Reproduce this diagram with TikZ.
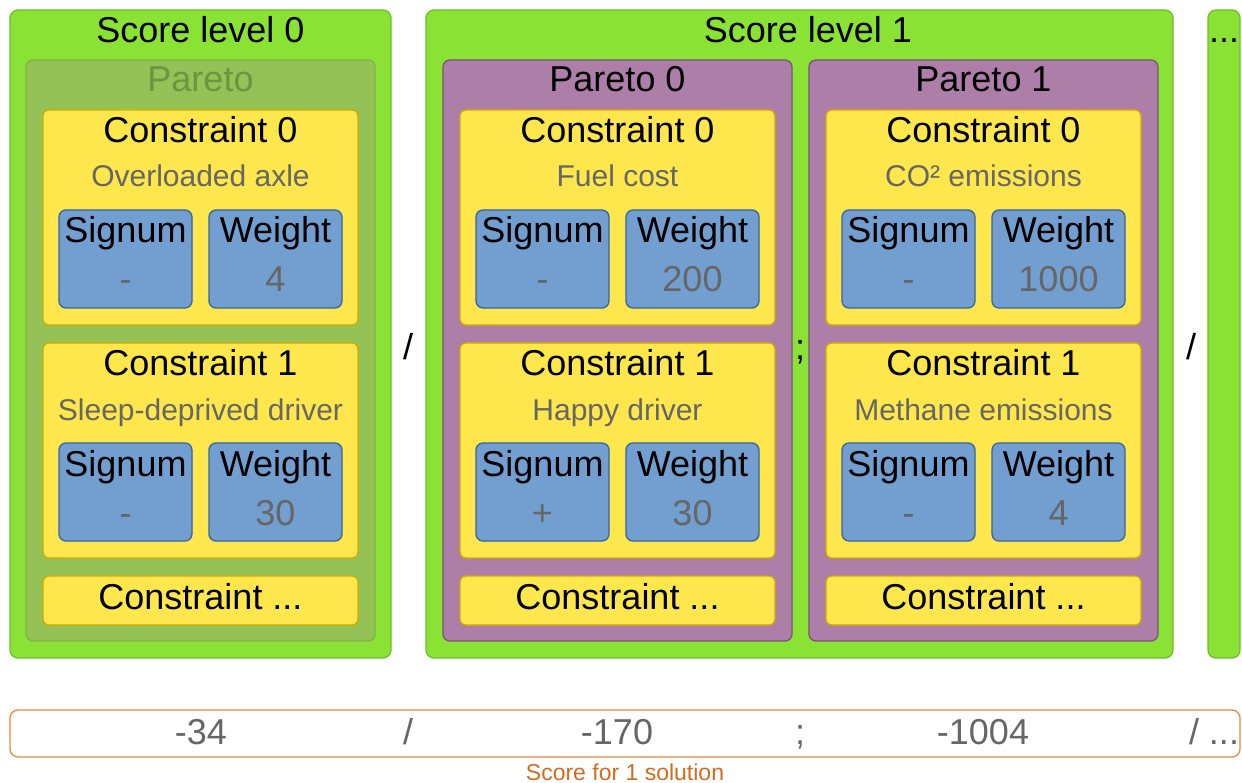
\documentclass[tikz,border=0pt]{standalone}
\usepackage{fontspec}
\setmainfont{Liberation Sans}
\usetikzlibrary{positioning}
\definecolor{lvlgreen}{HTML}{8AE234}
\definecolor{lvlgreenline}{HTML}{6CBF26}
\definecolor{parleft}{HTML}{94C256}
\definecolor{parleftline}{HTML}{84B04A}
\definecolor{parlefttext}{HTML}{6E9442}
\definecolor{parpurple}{HTML}{AD7FA8}
\definecolor{parpurpleline}{HTML}{7A5377}
\definecolor{conyellow}{HTML}{FDE74C}
\definecolor{conyellowline}{HTML}{D4A900}
\definecolor{valblue}{HTML}{729FCF}
\definecolor{valblueline}{HTML}{3465A4}
\definecolor{subgray}{HTML}{666666}
\definecolor{scoreorange}{HTML}{E8883A}
\definecolor{scoretext}{HTML}{D46A1E}
\tikzset{
	box/.style={draw, line width=1.3pt, anchor=north west, inner sep=0pt, outer sep=0pt},
	levelbox/.style={box, rounded corners=8pt, fill=lvlgreen, draw=lvlgreenline},
	parleftbox/.style={box, rounded corners=7pt, fill=parleft, draw=parleftline},
	parpurplebox/.style={box, rounded corners=7pt, fill=parpurple, draw=parpurpleline},
	conbox/.style={box, rounded corners=6pt, fill=conyellow, draw=conyellowline},
	valbox/.style={box, rounded corners=7pt, fill=valblue, draw=valblueline},
	scorebox/.style={box, rounded corners=8pt, fill=white, draw=scoreorange},
	big/.style={font=\fontsize{36}{40}\selectfont, anchor=base, inner sep=0pt},
	small/.style={font=\fontsize{30}{34}\selectfont, text=subgray, anchor=base, inner sep=0pt},
	value/.style={big, text=subgray},
}
\begin{document}
\begin{tikzpicture}[x=1pt,y=-1pt]
	\useasboundingbox (0,0) rectangle (1242,783);
	% score levels
	\node[levelbox, minimum width=381pt, minimum height=648pt] (lvl0) at (10,10) {};
	\node[levelbox, minimum width=747pt, minimum height=648pt] (lvl1) at (426,10) {};
	\node[levelbox, minimum width=32pt, minimum height=648pt] (lvlmore) at (1208,10) {};
	\node[big] (lvltitle0) at (200.5,43) {Score level 0};
	\node[big] (lvltitle1) at (808,43) {Score level 1};
	\node[big] (lvltitlemore) at (1224,43) {...};
	% pareto columns
	\foreach \i/\dx/\pstyle/\ptext/\ptitle in {0/0/parleftbox/parlefttext/Pareto, 1/417/parpurplebox/black/Pareto 0, 2/783/parpurplebox/black/Pareto 1}
	{
		\node[\pstyle, minimum width=349pt, minimum height=581pt] (par\i) at (26+\dx,60) {};
		\node[big, text=\ptext] (partitle\i) at (200.5+\dx,92) {\ptitle};
		\node[conbox, minimum width=315pt, minimum height=49pt] (conmore\i) at (43+\dx,576) {};
		\node[big] (conmoretitle\i) at (200.5+\dx,609) {Constraint ...};
	}
	% constraints
	\foreach \i/\j/\dx/\dy/\csub/\csign/\cweight in {0/0/0/0/Overloaded axle/-/4, 0/1/0/233/Sleep-deprived driver/-/30, 1/0/417/0/Fuel cost/-/200, 1/1/417/233/Happy driver/+/30, 2/0/783/0/CO² emissions/-/1000, 2/1/783/233/Methane emissions/-/4}
	{
		\node[conbox, minimum width=315pt, minimum height=215pt] (con\i\j) at (43+\dx,110+\dy) {};
		\node[big] (contitle\i\j) at (200.5+\dx,143+\dy) {Constraint \j};
		\node[small] (consub\i\j) at (200.5+\dx,187+\dy) {\csub};
		\node[valbox, minimum width=133pt, minimum height=98pt] (sig\i\j) at (59+\dx,210+\dy) {};
		\node[valbox, minimum width=133pt, minimum height=98pt] (wei\i\j) at (209+\dx,210+\dy) {};
		\node[big] (sigtitle\i\j) at (125.5+\dx,243+\dy) {Signum};
		\node[big] (weititle\i\j) at (275.5+\dx,243+\dy) {Weight};
		\node[value] (sigval\i\j) at (125.5+\dx,292+\dy) {\csign};
		\node[value] (weival\i\j) at (275.5+\dx,292+\dy) {\cweight};
	}
	% separators
	\node[big] (sep0) at (408,360) {/};
	\node[big] (sep1) at (800,360) {;};
	\node[big] (sep2) at (1191,360) {/};
	% score of one solution
	\node[scorebox, minimum width=1230pt, minimum height=47pt] (score) at (10,710) {};
	\node[value] (score0) at (201,744) {-34};
	\node[value] (scoresep0) at (408,744) {/};
	\node[value] (score1) at (617,744) {-170};
	\node[value] (scoresep1) at (800,744) {;};
	\node[value] (score2) at (983,744) {-1004};
	\node[value] (scoremore) at (1214,744) {/ ...};
	\node[font=\fontsize{23}{26}\selectfont, text=scoretext, anchor=base, inner sep=0pt] (scorelabel) at (625,780) {Score for 1 solution};
\end{tikzpicture}
\end{document}
